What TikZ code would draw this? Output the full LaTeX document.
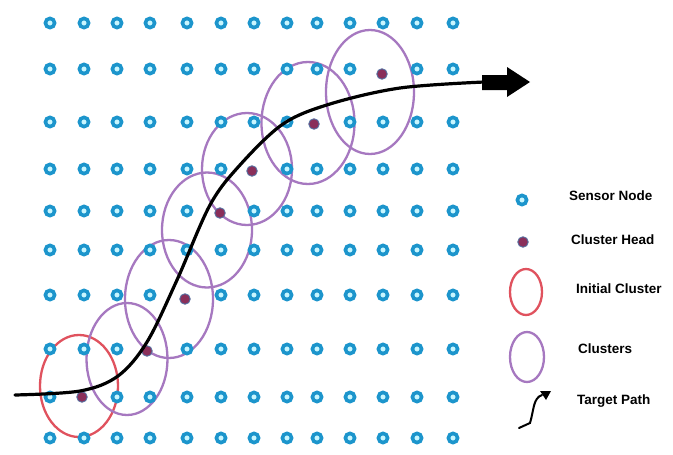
\documentclass[tikz,border=0pt]{standalone}
\usepackage{fontspec}
\setmainfont{Liberation Sans}
\usetikzlibrary{shapes.geometric}
\definecolor{sensorblue}{HTML}{1C95CC}
\definecolor{sensorin}{HTML}{C8F6FF}
\definecolor{headfill}{HTML}{8A2F5A}
\definecolor{headedge}{HTML}{5570A0}
\definecolor{initred}{HTML}{E0525E}
\definecolor{clpurple}{HTML}{A678C0}
\tikzset{
  sensor/.style={circle,draw=sensorblue,fill=sensorin,line width=3.6pt,minimum size=9.2pt,inner sep=0pt},
  head/.style={circle,draw=headedge,fill=headfill,line width=0.9pt,minimum size=10.5pt,inner sep=0pt},
  initclu/.style={ellipse,draw=initred,line width=2.3pt,inner sep=0pt},
  clu/.style={ellipse,draw=clpurple,line width=2.3pt,inner sep=0pt},
  legtext/.style={anchor=west,font=\bfseries\fontsize{13.5}{15}\selectfont,inner sep=0pt},
  pathline/.style={line width=3.2pt,black,line cap=round}
}
\begin{document}
\begin{tikzpicture}[x=1pt,y=-1pt]
\useasboundingbox (0,0) rectangle (673,455);
\fill[white] (0,0) rectangle (673,455);
% cluster head positions to skip
\expandafter\def\csname skipHD2x9\endcsname{}
\expandafter\def\csname skipHD4x8\endcsname{}
\expandafter\def\csname skipHD5x7\endcsname{}
\expandafter\def\csname skipHD6x5\endcsname{}
\expandafter\def\csname skipHD7x4\endcsname{}
\expandafter\def\csname skipHD9x3\endcsname{}
\expandafter\def\csname skipHD11x2\endcsname{}
% cluster ellipses
\node[initclu,minimum width=78pt,minimum height=102pt] (c0) at (79,386) {};
\node[clu,minimum width=81pt,minimum height=112pt] (c1) at (127,359) {};
\node[clu,minimum width=88pt,minimum height=118pt] (c2) at (169,299) {};
\node[clu,minimum width=90pt,minimum height=115pt] (c3) at (207,230) {};
\node[clu,minimum width=90pt,minimum height=112pt] (c4) at (247,169) {};
\node[clu,minimum width=93pt,minimum height=122pt] (c5) at (308,123) {};
\node[clu,minimum width=88pt,minimum height=124pt] (c6) at (370,92) {};
% sensor grid
\foreach \x [count=\i] in {50,84,117,150,187,221,254,287,317,350,383,417,453} {
  \foreach \y [count=\j] in {23,69,122,169,211,250,295,349,397,438} {
    \ifcsname skipHD\i x\j\endcsname\else
      \node[sensor] (s-\i-\j) at (\x,\y) {};
    \fi
  }
}
% cluster heads
\node[head] (h1) at (82,397) {};
\node[head] (h2) at (147,351) {};
\node[head] (h3) at (185,299) {};
\node[head] (h4) at (220,213) {};
\node[head] (h5) at (252,171) {};
\node[head] (h6) at (314,124) {};
\node[head] (h7) at (382,74) {};
% target path
\coordinate (pstart) at (15,395);
\coordinate (pend) at (484,82);
\draw[pathline] plot[smooth,tension=0.55] coordinates {(15,395) (80,391) (118,376) (147,342) (177,280) (210,205) (240,165) (283,124) (330,104) (400,88) (484,82)};
\fill[black] (482,75) -- (507,75) -- (507,67) -- (530,82) -- (507,97) -- (507,90) -- (482,90) -- cycle;
% legend
\node[sensor] (ls) at (522,200) {};
\node[legtext] (t1) at (569,196) {Sensor Node};
\node[head] (lh) at (523,242) {};
\node[legtext] (t2) at (571,240) {Cluster Head};
\node[initclu,minimum width=32pt,minimum height=46pt] (lr) at (526,292) {};
\node[legtext] (t3) at (576,289) {Initial Cluster};
\node[clu,minimum width=34pt,minimum height=50pt] (lp) at (527,357) {};
\node[legtext] (t4) at (578,349) {Clusters};
\draw[line width=2pt,line cap=round] (519,428) -- (530,423) .. controls (534,410) and (533,398) .. (542,395);
\fill[black] (540,391) -- (551,391) -- (546,400) -- cycle;
\node[legtext] (t5) at (577,401) {Target Path};
\end{tikzpicture}
\end{document}
